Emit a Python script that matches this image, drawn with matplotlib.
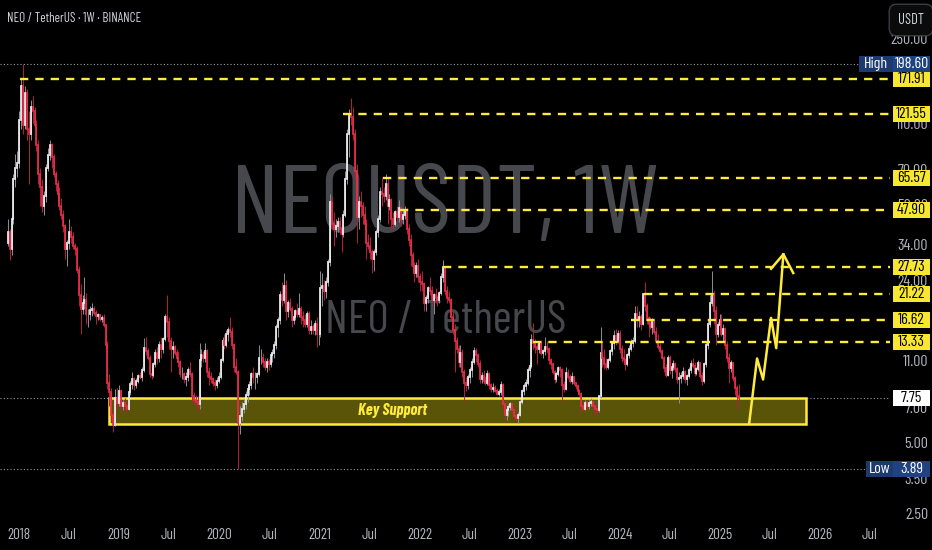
import numpy as np
import pandas as pd
import matplotlib
matplotlib.use('Agg')
import matplotlib.pyplot as plt
import matplotlib.dates as mdates
from matplotlib import font_manager as fm
from matplotlib.patches import Rectangle
from matplotlib.ticker import NullLocator

# ---------------- data (weekly NEO/USDT) ----------------
start_date = '2017-11-20'
first_open = 35.0
closes = [
    39, 33, 44, 65, 72, 76, 115, 160, 110, 150,
    105, 100, 130, 125, 110, 90, 68, 60, 50, 55,
    72, 82, 90, 80, 68, 62, 56, 50, 46, 41,
    33, 35, 39, 37, 34, 33, 27, 21, 18.5, 19.5,
    20, 17.5, 17.5, 18.2, 18.5, 17.8, 17.2, 17.3, 16.7, 16.9,
    15.8, 13, 9, 8.2, 6.6, 6.0, 7.8, 7.4, 8.3, 7.2,
    7.4, 7.2, 7.0, 8.2, 8.9, 9.3, 8.8, 9.2, 9.6, 9.5,
    10.2, 12.6, 12.3, 11.5, 9.8, 9.7, 10.8, 12, 11.5, 13,
    12.5, 13.8, 17, 16.3, 13.5, 12.5, 12.8, 12, 11.5, 11,
    9.8, 9.8, 9.3, 9.5, 10.2, 9.8, 7.9, 7.6, 7.5, 7.3,
    11.2, 11.8, 11.4, 12.2, 10, 9.5, 9.3, 9, 8.8, 9.2,
    9.5, 11.2, 13.5, 13, 14.5, 15, 14.8, 13, 10.5, 10,
    6.1, 6.5, 7.0, 7.3, 8.0, 8.5, 8.8, 9.8, 9.5, 9.5,
    9.8, 11.5, 11.5, 11, 10.5, 11, 10.8, 11.8, 12, 13,
    15.5, 16.5, 21, 20, 23, 18, 19.5, 18.5, 16.5, 17,
    18, 17.5, 18.5, 17, 16.5, 16, 17.5, 15, 15.5, 15,
    16, 14.5, 14.5, 22.5, 23, 22, 24, 29, 52, 42,
    40, 41, 43, 40, 38, 46, 65, 100, 121.5, 118,
    100, 70, 45, 52, 50, 46, 42, 35, 34, 32,
    30, 32, 39, 44, 57, 56, 55, 62, 50, 53,
    44, 42, 47, 45, 49, 44, 46, 48, 40, 36,
    31, 28, 26, 28, 25, 24, 23.5, 19.5, 20.5, 22.5,
    22, 20, 21, 20.5, 20, 21.5, 25, 27.7, 22, 20.5,
    20, 17, 15, 13.5, 12.5, 11, 12, 10, 9, 8.8,
    9.5, 10.2, 11, 12.2, 11.8, 10.8, 9.3, 9.6, 9.2, 9.0,
    9.8, 8.8, 8.5, 8.6, 8.3, 8.1, 8.2, 8.8, 7.3, 6.6,
    6.9, 7.1, 7.3, 6.9, 6.5, 6.4, 6.6, 7.5, 8.3, 8.7,
    9.0, 10.2, 10.6, 13.6, 13.2, 12.8, 12.5, 13.3, 12.0, 12.2,
    12.8, 12.5, 11.2, 10.8, 10.0, 9.3, 9.8, 10.4, 10.2, 8.8,
    8.5, 9.9, 9.5, 9.2, 9.5, 9.0, 8.7, 8.3, 8.1, 7.2,
    7.0, 7.4, 7.2, 7.4, 7.5, 7.2, 7.0, 6.9, 7.9, 12.0,
    11.5, 10.8, 10.5, 11.2, 12.2, 13.2, 14.2, 13.5, 14.5, 12.5,
    11.5, 11.2, 10.8, 11.8, 12.5, 13.3, 13.5, 17.5, 16.5, 17,
    16, 21.2, 19, 16.8, 16.0, 15.5, 16.3, 14.8, 13.5, 12.8,
    12.2, 11.5, 10.4, 9.7, 11.5, 10.2, 10.5, 10.8, 10.3, 9.3,
    9.4, 9.6, 10.0, 9.3, 9.6, 10.2, 10.8, 10.6, 9.9, 10.3,
    10.9, 9.6, 9.2, 10.8, 13.0, 16.0, 19.5, 21.2, 18, 14.5,
    15.8, 16.5, 14.5, 15.2, 13.0, 11.5, 10.4, 10.9, 9.4, 8.6,
    7.9, 7.75,
]
highs = [
    44, 40, 46, 68, 83, 85, 125, 172, 198.6, 160,
    155, 125, 140, 145, 130, 115, 95, 72, 65, 58,
    75, 88, 95, 92, 83, 70, 64, 60, 54, 48,
    42, 36, 44, 41, 39, 35, 34, 28, 23.5, 21,
    25, 21.5, 18.5, 19, 19.5, 19, 18.2, 17.8, 17.6, 17.3,
    17.5, 16, 13.5, 9.8, 8.6, 6.9, 8.5, 8.6, 8.8, 8.5,
    7.6, 7.8, 7.4, 8.4, 9.2, 10.0, 9.5, 9.4, 9.8, 10.0,
    10.5, 13.9, 14.0, 12.6, 11.8, 10.5, 11, 12.5, 12.8, 13.5,
    14, 14, 17.5, 21, 17, 14, 13.5, 13, 12.5, 12.3,
    11.2, 10.5, 10, 10, 10.5, 11, 10, 8.2, 8, 7.9,
    13.2, 12.5, 12.3, 13.3, 12.5, 10.5, 10, 9.5, 9.3, 9.5,
    10, 11.5, 14, 14.5, 15, 15.5, 17, 15.5, 13.2, 11.5,
    10.2, 7.2, 7.5, 7.7, 8.3, 8.8, 9.2, 10, 10.5, 10,
    10, 13, 12.5, 12, 11.5, 11.5, 11.3, 12, 12.5, 13.5,
    16, 17, 22, 24, 26, 24.5, 20, 20.5, 19, 17.5,
    18.5, 19.5, 21.5, 19, 18, 17.5, 18, 18, 16.5, 16,
    16.5, 17, 15, 26.5, 26, 24.5, 25, 30, 56, 55,
    47, 44, 45, 45, 42, 48, 70, 105, 128, 142,
    130, 105, 75, 55, 58, 52, 50, 44, 38, 37,
    33, 33, 40, 46, 60, 66, 60, 68, 66, 56,
    54, 47, 48, 50, 53, 50, 48, 50, 49, 42,
    38, 32, 29, 29, 30, 26, 26.5, 24, 21, 23,
    25, 23, 21.5, 22.5, 21, 22, 26, 29.5, 28, 23,
    22, 20.5, 18, 16, 14, 13, 13, 12.5, 10.3, 9.5,
    9.8, 10.5, 11.5, 12.8, 12.6, 12, 11.2, 10, 10.2, 9.6,
    10.2, 10, 9, 9, 8.8, 8.6, 8.5, 9.2, 9.0, 7.6,
    7.2, 7.3, 7.5, 7.4, 7.1, 6.7, 6.8, 7.6, 8.5, 9.0,
    9.3, 10.5, 11, 14.5, 16.1, 13.8, 13.2, 13.5, 13.6, 12.5,
    14, 13.5, 12.8, 11.5, 11, 10.2, 10, 10.6, 10.6, 10.4,
    9.2, 10.5, 10.3, 9.8, 10, 9.6, 9.1, 8.9, 8.5, 8.2,
    7.4, 7.6, 7.5, 7.6, 7.8, 7.6, 7.4, 7.2, 8.0, 15.5,
    13.5, 12.5, 11.5, 11.5, 12.5, 13.5, 15, 15.2, 15, 15,
    13, 12.5, 11.5, 12, 13, 13.8, 14, 19, 19, 18,
    17.5, 21.5, 23.9, 19.5, 17.2, 17, 16.9, 16.6, 15.5, 14.5,
    13.2, 12.5, 11.7, 10.8, 11.8, 11.8, 10.8, 11.2, 11, 10.5,
    10.0, 10, 10.5, 10.2, 9.8, 10.5, 11.2, 11.5, 11, 10.5,
    11.2, 11, 10, 11, 13.5, 16.5, 21, 26.7, 22, 19,
    16.2, 17.5, 17.5, 16, 15.5, 13.5, 12, 11.2, 11, 9.6,
    8.8, 8.9,
]
lows = [
    34, 29.6, 31, 42, 60, 66, 72, 105, 100, 105,
    95, 62, 95, 112, 105, 85, 62, 50, 47, 46,
    52, 70, 78, 72, 66, 58, 52, 48, 44, 39,
    30, 28, 33, 35, 33, 31, 26, 19, 14.5, 17.5,
    18.5, 16, 15.5, 16.5, 17.2, 17.3, 16, 16.6, 16.4, 16.2,
    15.5, 12.5, 8.5, 7.2, 6.2, 5.6, 5.9, 7.0, 7.2, 6.8,
    6.9, 7.0, 6.8, 6.9, 8.0, 8.5, 8.4, 8.6, 9.0, 9.3,
    9.2, 10.0, 11.8, 11.2, 9.5, 9.3, 9.5, 10.5, 10.8, 11,
    11.5, 12, 13.5, 14, 12.5, 10, 11.5, 11.8, 11, 10.5,
    9.5, 9.3, 9, 8.7, 9.2, 9.5, 7.5, 7.3, 7.2, 6.8,
    7.0, 10.5, 11, 11, 9.5, 8.8, 9, 8.7, 8.4, 8.6,
    9, 9.3, 11, 12.5, 12.8, 13.5, 14, 12.5, 10, 9.8,
    3.89, 5.5, 6.2, 6.7, 7.0, 7.5, 8.0, 8.5, 9, 8.5,
    9, 9.6, 10.8, 10.5, 10.2, 10, 10.2, 10.5, 11, 11.5,
    12.5, 14, 16, 19, 19.5, 16.5, 17, 18, 15.5, 16,
    16.5, 17, 17, 16, 15.5, 15.5, 15.5, 14.5, 14.5, 14.5,
    14.3, 12.8, 13, 14, 19, 20, 20.5, 23, 28, 40,
    34, 37, 39, 38, 32, 37, 45, 62, 80, 110,
    95, 65, 35, 40, 45, 42, 40, 30, 33, 30,
    26, 26.5, 31, 37, 43, 50, 52, 53, 42, 48,
    40, 40, 41, 43, 43, 41, 42, 44, 38, 34,
    28, 26, 24, 25, 24, 22, 22, 18, 18, 19.5,
    21, 19, 17.5, 19.5, 19, 19.5, 21, 24, 21, 19.5,
    19.5, 16.5, 14.5, 10, 12, 10.5, 10.5, 9.5, 7.5, 8.3,
    8.5, 9, 9.5, 10.8, 11, 10.5, 9, 9, 9, 8.8,
    8.8, 8.5, 8.2, 8.2, 8.2, 8.0, 7.9, 8.0, 7.0, 6.2,
    6.3, 6.5, 6.9, 6.7, 6.3, 6.2, 6.1, 6.5, 7.3, 8.0,
    8.4, 8.8, 9.5, 10.4, 12.5, 12, 10.8, 12, 11.8, 11.5,
    11.8, 12, 10.8, 10.3, 9.8, 9, 9.1, 9.6, 9.5, 7.5,
    8.2, 8.4, 9.3, 9.0, 8.9, 8.8, 8.5, 8.1, 7.9, 6.7,
    6.9, 6.9, 7.0, 7.0, 7.2, 7.0, 6.5, 6.5, 6.8, 7.8,
    10.5, 10.3, 10.2, 10.3, 11, 11.8, 12.5, 13, 13.2, 12,
    11, 10.8, 10.2, 10.6, 11.5, 12.2, 12.8, 13.3, 15.5, 15.5,
    15, 15.8, 18, 16, 14, 15.2, 14.5, 14.5, 13.2, 12.5,
    12, 11.3, 10, 9.5, 9.6, 9.8, 9.4, 10.2, 10, 9.0,
    7.4, 9, 9.3, 9, 8.8, 9.4, 9.9, 10.4, 9.6, 9.7,
    10.1, 9.4, 8.8, 9.0, 10.5, 12.5, 15.5, 19, 16, 13,
    14, 15, 14.2, 13.5, 12.5, 11, 9.0, 10, 9.2, 8.0,
    7.0, 7.6,
]

levels = [171.91, 121.55, 65.57, 47.90, 27.73, 21.22, 16.62, 13.33]
level_starts = ['2018-01-05', '2021-03-29', '2021-08-22', '2021-10-23',
                '2022-03-29', '2024-03-29', '2024-02-10', '2023-02-20']
ath_price, atl_price, last_price = 198.60, 3.89, 7.75
support_low, support_high = 6.05, 7.80
support_start, support_end = '2018-11-24', '2025-11-11'
support_label_date = '2021-09-23'
path_dates = ['2025-04-17', '2025-05-16', '2025-06-07', '2025-07-06', '2025-07-25', '2025-08-20']
path_prices = [6.05, 11.4, 9.3, 16.9, 12.6, 31.3]
head_dates = ['2025-07-06', '2025-08-20', '2025-09-25']
head_prices = [27.2, 31.3, 26.1]
price_ticks = [250, 110, 70, 50, 34, 24, 11, 7, 5, 3.5, 2.5]
time_ticks = ['2018-01-01', '2018-07-01', '2019-01-01', '2019-07-01', '2020-01-01', '2020-07-01',
              '2021-01-01', '2021-07-01', '2022-01-01', '2022-07-01', '2023-01-01', '2023-07-01',
              '2024-01-01', '2024-07-01', '2025-01-01', '2025-07-01', '2026-01-01', '2026-07-01']
time_labels = ['2018', 'Jul', '2019', 'Jul', '2020', 'Jul', '2021', 'Jul', '2022', 'Jul',
               '2023', 'Jul', '2024', 'Jul', '2025', 'Jul', '2026', 'Jul']

# ---------------- fonts ----------------
fams = {}
for f in fm.fontManager.ttflist:
    fams.setdefault(f.name, set()).add(str(f.stretch))
if 'Barlow Condensed' in fams:
    FONT = dict(family='Barlow Condensed')
elif 'Archivo Narrow' in fams:
    FONT = dict(family='Archivo Narrow')
elif 'condensed' in fams.get('DejaVu Sans', set()):
    FONT = dict(family='DejaVu Sans', fontstretch='condensed')
else:
    FONT = dict(family='Liberation Sans')

# ---------------- figure ----------------
W, H = 932, 550
PLOT_R, PLOT_B = 890, 525
fig = plt.figure(figsize=(W / 100, H / 100), dpi=100, facecolor='black')
ax = fig.add_axes([0, (H - PLOT_B) / H, PLOT_R / W, PLOT_B / H])
ax.set_facecolor('black')
for s in ax.spines.values():
    s.set_visible(False)
ax.set_yscale('log')
Y0, Y1 = 2.27, 368
ax.set_ylim(Y0, Y1)
x0 = mdates.date2num(pd.Timestamp('2017-10-23'))
x1 = mdates.date2num(pd.Timestamp('2026-09-13'))
ax.set_xlim(x0, x1)
ax.set_yticks([])
ax.yaxis.set_minor_locator(NullLocator())

def axx(px):
    return px / PLOT_R

PX_PER_DEC = PLOT_B / np.log10(Y1 / Y0)
def yspan(p, half_px):
    f = 10 ** (half_px / PX_PER_DEC)
    return p / f, p * f

n = min(len(closes), len(highs), len(lows))
dates = pd.date_range(start_date, periods=n, freq='7D')
xs = mdates.date2num(dates)
c = np.array(closes[:n], float)
o = np.concatenate([[first_open], c[:-1]])
h = np.array(highs[:n], float)
l = np.array(lows[:n], float)
up = c >= o
UP_BODY, UP_WICK = '#f2f2f2', '#8d9099'
DN_BODY, DN_WICK = '#ef2d4b', '#b3223a'
ax.vlines(xs, l, h, colors=np.where(up, UP_WICK, DN_WICK), lw=0.7, zorder=3)
ax.vlines(xs, np.minimum(o, c), np.maximum(o, c), colors=np.where(up, UP_BODY, DN_BODY),
          lw=1.25, zorder=4, capstyle='projecting')

rend = fig.canvas.get_renderer()
def fit(t, target):
    w = t.get_window_extent(renderer=rend).width
    t.set_fontsize(t.get_fontsize() * target / w)

# watermark
wm1 = ax.text(445 / PLOT_R, 1 - 208 / PLOT_B, 'NEOUSDT, 1W', transform=ax.transAxes,
              ha='center', va='center', color='#47484e', fontsize=50, zorder=0.5, **FONT)
wm2 = ax.text(446 / PLOT_R, 1 - 321 / PLOT_B, 'NEO / TetherUS', transform=ax.transAxes,
              ha='center', va='center', color='#47484e', fontsize=26, zorder=0.5, **FONT)
fit(wm1, 428)
fit(wm2, 242)

YEL = '#ffeb3b'
# key support zone
sx0 = mdates.date2num(pd.Timestamp(support_start))
sx1 = mdates.date2num(pd.Timestamp(support_end))
ax.add_patch(Rectangle((sx0, support_low), sx1 - sx0, support_high - support_low,
                       fc='#5a5408', ec=YEL, lw=1.8, zorder=2))
ks = ax.text(mdates.date2num(pd.Timestamp(support_label_date)), np.sqrt(support_low * support_high),
             'Key Support', color=YEL, fontsize=10, fontweight='bold', fontstyle='italic',
             ha='center', va='center', zorder=6, **FONT)
fit(ks, 69)

# dotted reference lines
for p in (ath_price, atl_price, last_price):
    ax.axhline(p, color='#9a9da6', lw=0.8, ls=(0, (1, 2)), zorder=1.5)

# dashed levels
for lv, st in zip(levels, level_starts):
    ax.hlines(lv, mdates.date2num(pd.Timestamp(st)), x1, colors=YEL, lw=1.7,
              linestyles=(0, (3.5, 3)), zorder=5)

# projected path
ax.plot(mdates.date2num(pd.to_datetime(path_dates)), path_prices, color=YEL, lw=1.8, zorder=7)
ax.plot(mdates.date2num(pd.to_datetime(head_dates)), head_prices, color=YEL, lw=1.8, zorder=7)

# x axis labels
ax.set_xticks(mdates.date2num(pd.to_datetime(time_ticks)))
ax.set_xticklabels(time_labels, **FONT)
ax.tick_params(axis='x', length=0, pad=2.0, labelsize=11, labelcolor='#b2b5be')

# price scale
ytr = ax.get_yaxis_transform()
LS = 11.5
for p in price_ticks:
    ax.text(axx(928), p, f'{p:.2f}', transform=ytr, color='#b2b5be', fontsize=LS,
            ha='right', va='center', clip_on=False, zorder=8, **FONT)

def label_box(p, txt, xa, xb, fc, tc, z=9):
    lo, hi = yspan(p, 8)
    ax.add_patch(Rectangle((axx(xa), lo), axx(xb) - axx(xa), hi - lo, transform=ytr,
                           fc=fc, ec='none', clip_on=False, zorder=z))
    ax.text(axx((xa + xb) / 2), p, txt, transform=ytr, color=tc, fontsize=LS, ha='center',
            va='center', clip_on=False, zorder=z + 0.5, **FONT)

for lv in levels:
    label_box(lv, f'{lv:.2f}', 893, 930, '#f7e731', 'black')
NAVY, NAVY2 = '#1c3a6e', '#1f4280'
label_box(ath_price, 'High', 859, 893, NAVY, 'white')
label_box(ath_price, f'{ath_price:.2f}', 893, 930, NAVY2, 'white')
label_box(atl_price, 'Low', 866, 893, NAVY, 'white')
label_box(atl_price, f'{atl_price:.2f}', 893, 930, NAVY2, 'white')
label_box(last_price, f'{last_price:.2f}', 893, 930, 'white', 'black')

# header & currency box
hd = fig.text(7 / W, 1 - 18 / H, 'NEO / TetherUS · 1W · BINANCE', color='#d1d4dc', fontsize=10,
              ha='left', va='center', **FONT)
fit(hd, 134)
fig.text(911 / W, 1 - 20 / H, 'USDT', color='#d1d4dc', fontsize=LS - 1, ha='center', va='center',
         bbox=dict(boxstyle='round,pad=0.6,rounding_size=0.5', fc='#0b0b0b', ec='#3a3d45', lw=1),
         **FONT)

fig.savefig('out.png', dpi=100, facecolor='black')
